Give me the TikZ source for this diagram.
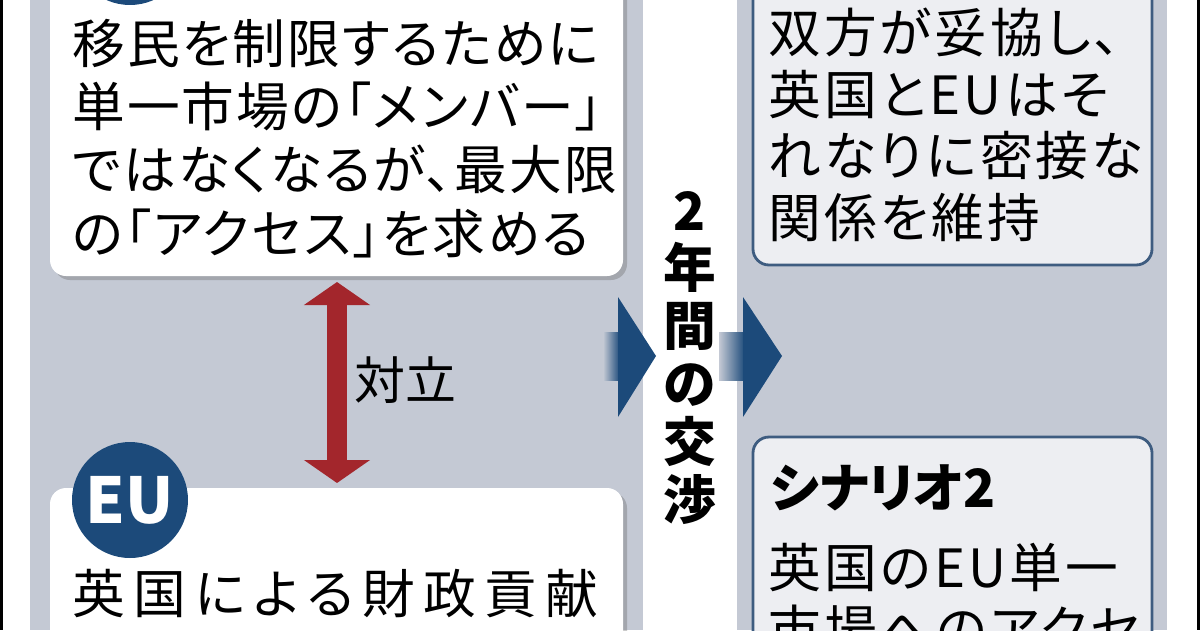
\documentclass[tikz,border=0pt]{standalone}
\usepackage{fontspec}
\usetikzlibrary{arrows.meta, shadows}

\newfontfamily\jpfont[RawFeature=+palt]{Noto Sans CJK JP}
\newfontfamily\jpfixed{Noto Sans CJK JP}

\definecolor{panelgray}{RGB}{196,201,212}
\definecolor{eunavy}{RGB}{28,74,122}
\definecolor{boxedge}{RGB}{62,92,128}
\definecolor{boxfill}{RGB}{237,238,242}
\definecolor{clashred}{RGB}{163,38,44}

\tikzset{
  pageedge/.style={draw=black, line width=1.7pt},
  panel/.style={fill=panelgray},
  leftbox/.style={fill=white, rounded corners=0.32cm,
    drop shadow={shadow xshift=0.08cm, shadow yshift=-0.08cm, fill=black!60, opacity=0.35}},
  rightbox/.style={fill=boxfill, draw=boxedge, line width=1.6pt, rounded corners=0.32cm},
  badge/.style={circle, fill=eunavy, minimum size=2.32cm, inner sep=0pt, text=white,
    font=\jpfixed\bfseries\fontsize{36pt}{36pt}\selectfont},
  bodytext/.style={anchor=base west, align=left, inner sep=0pt,
    font=\jpfont\fontsize{30pt}{36pt}\selectfont\addfontfeature{LetterSpace=4}},
  widetext/.style={bodytext,
    font=\jpfont\fontsize{30pt}{36pt}\selectfont\addfontfeature{LetterSpace=16}},
  scenariotext/.style={bodytext,
    font=\jpfont\fontsize{30pt}{35pt}\selectfont\addfontfeature{LetterSpace=6}},
  headtext/.style={anchor=base west, inner sep=0pt,
    font=\jpfont\bfseries\fontsize{30pt}{36pt}\selectfont},
  labeltext/.style={inner sep=0pt, font=\jpfixed\fontsize{29pt}{29pt}\selectfont},
  talkstext/.style={align=center, inner sep=0pt,
    font=\jpfixed\bfseries\fontsize{30pt}{33pt}\selectfont},
  clash/.style={draw=clashred, line width=0.4cm,
    {Triangle[width=1.3cm,length=0.46cm]}-{Triangle[width=1.3cm,length=0.46cm]}}
}

\begin{document}
\begin{tikzpicture}[x=0.02cm, y=-0.02cm]
  % Fix the canvas (pixel grid, y pointing down)
  \useasboundingbox (0,0) rectangle (1200,630);
  \clip (0,0) rectangle (1200,630);

  % Draw the page and its edges
  \fill[white] (0,0) rectangle (1200,630);
  \draw[pageedge] (1.5,0) -- (1.5,630);
  \draw[pageedge] (1198,0) -- (1198,630);

  % Draw the two panels
  \fill[panel] (30,0) rectangle (643,630);
  \fill[panel] (737,0) rectangle (1167,630);

  % Left side
  % UK position (anchored at its last baseline)
  \fill[leftbox] (50,-40) rectangle (623,276);
  \node[badge] (ukbadge) at (130,-53) {};
  \node[bodytext] (ukstance) at (72,253)
    {移民を制限するために\\単一市場の「メンバー」\\ではなくなるが、最大限\\の「アクセス」を求める};

  % EU position
  \fill[leftbox] (50,488) rectangle (623,700);
  \node[badge] (eubadge) at (130,500) {EU};
  \node[widetext] (eustance) at (72,613) {英国による財政貢献};

  % Conflict arrow
  \coordinate (clashTop) at (337,282);
  \coordinate (clashBot) at (337,483);
  \draw[clash] (clashTop) -- (clashBot);
  \node[labeltext] (clashlabel) at (405,380) {対立};

  % Middle: two years of talks
  \node[talkstext] (talks) at (690,358) {2\\年\\間\\の\\交\\渉};

  % Draw the chevrons
  \shade[left color=panelgray, right color=eunavy] (603,332) rectangle (620,380);
  \fill[eunavy] (618,297) -- (656,356) -- (618,417) -- cycle;
  \shade[left color=panelgray, right color=eunavy] (719,332) rectangle (745,380);
  \fill[eunavy] (743,297) -- (782,356) -- (743,417) -- cycle;

  % Right side
  % Scenario 1
  \draw[rightbox] (753,-40) rectangle (1152,265);
  \node[scenariotext] (scenarioone) at (768,237)
    {双方が妥協し、\\英国とEUはそ\\れなりに密接な\\関係を維持};

  % Scenario 2
  \draw[rightbox] (753,437) rectangle (1152,700);
  \node[headtext] (scenariotwo) at (770,507) {シナリオ2};
  \node[scenariotext] (accessline) at (768,649) {英国のEU単一\\市場へのアクセ};
\end{tikzpicture}
\end{document}
